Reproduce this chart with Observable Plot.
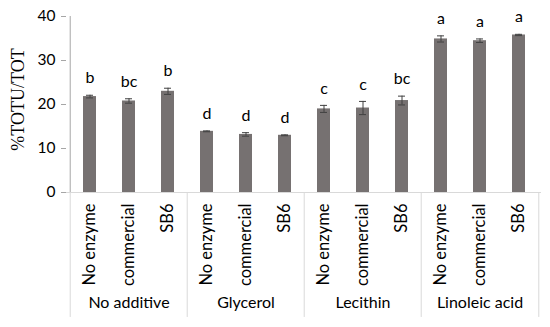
<!DOCTYPE html>
<html><head><meta charset="utf-8">
<script src="https://cdn.jsdelivr.net/npm/d3@7"></script>
<script src="https://cdn.jsdelivr.net/npm/@observablehq/plot@0.6"></script>
<style>body{margin:0;background:#fff}</style>
</head><body><div id="chart"></div>
<script>
const groups = ["No additive", "Glycerol", "Lecithin", "Linoleic acid"];
const treatments = ["No enzyme", "commercial", "SB6"];
const values = [21.8, 20.8, 23.0, 13.9, 13.2, 13.0, 19.0, 19.2, 20.9, 34.9, 34.5, 35.8];
const errors = [0.3, 0.5, 0.7, 0.1, 0.4, 0.1, 0.8, 1.5, 1.0, 0.7, 0.4, 0.15];
const letters = ["b", "bc", "b", "d", "d", "d", "c", "c", "bc", "a", "a", "a"];
const yTicks = [0, 10, 20, 30, 40];
const yTitle = "%TOTU/TOT";

const data = [];
groups.forEach((g, gi) => treatments.forEach((t, ti) => {
  const i = gi * treatments.length + ti;
  data.push({key: g + "|" + t, group: g, treatment: t, value: values[i], err: errors[i], letter: letters[i]});
}));

const W = 550, H = 327, mL = 66, mR = 9, mT = 16, mB = 135;
const step = (W - mL - mR) / data.length;
const keys = data.map(d => d.key);
const firstKeys = groups.map(g => g + "|" + treatments[0]);
const midKeys = groups.map(g => g + "|" + treatments[1]);
const lastKey = keys[keys.length - 1];
const font = "Lato, sans-serif";

const plot = Plot.plot({
  width: W, height: H,
  marginLeft: mL, marginRight: mR, marginTop: mT, marginBottom: mB,
  style: {fontFamily: font, background: "#fff", color: "#000"},
  x: {domain: keys, paddingInner: 0.67, paddingOuter: 0.335},
  y: {domain: [0, 40]},
  marks: [
    Plot.ruleY([0], {stroke: "#d9d9d9"}),
    Plot.ruleX(firstKeys, {x: d => d, dx: -step / 2, y1: 0, y2: -28.4, stroke: "#d9d9d9"}),
    Plot.ruleX([lastKey], {x: d => d, dx: step / 2, y1: 0, y2: -28.4, stroke: "#d9d9d9"}),
    Plot.ruleX([keys[0]], {x: d => d, dx: -step / 2, y1: 0, y2: 40, stroke: "#a6a6a6"}),
    Plot.axisY({ticks: yTicks, tickSize: 5, tickPadding: 6, fontSize: 15.5, stroke: "#a6a6a6", fill: "#000", label: null}),
    Plot.axisX({tickRotate: -90, tickSize: 0, tickPadding: 11, fontSize: 16.5, fill: "#000",
      tickFormat: k => k.split("|")[1], label: null}),
    Plot.text(groups, {x: (g, i) => midKeys[i], frameAnchor: "bottom", dy: 115, fontSize: 16, fill: "#000"}),
    Plot.text([yTitle], {frameAnchor: "left", textAnchor: "middle", lineAnchor: "middle", dx: -48, dy: -5,
      rotate: -90, fontSize: 18, fontFamily: "Liberation Serif, serif", fill: "#000"}),
    Plot.barY(data, {x: "key", y: "value", fill: "#767171"}),
    Plot.ruleX(data, {x: "key", y1: d => d.value - d.err, y2: d => d.value + d.err, stroke: "#404040"}),
    Plot.tickY(data, {x: "key", y: d => d.value + d.err, insetLeft: 3, insetRight: 3, stroke: "#404040"}),
    Plot.tickY(data, {x: "key", y: d => d.value - d.err, insetLeft: 3, insetRight: 3, stroke: "#404040"}),
    Plot.text(data, {x: "key", y: d => d.value + d.err, text: "letter", dy: -17, fontSize: 16, fill: "#000"})
  ]
});
document.getElementById("chart").appendChild(plot);
</script>
</body></html>
